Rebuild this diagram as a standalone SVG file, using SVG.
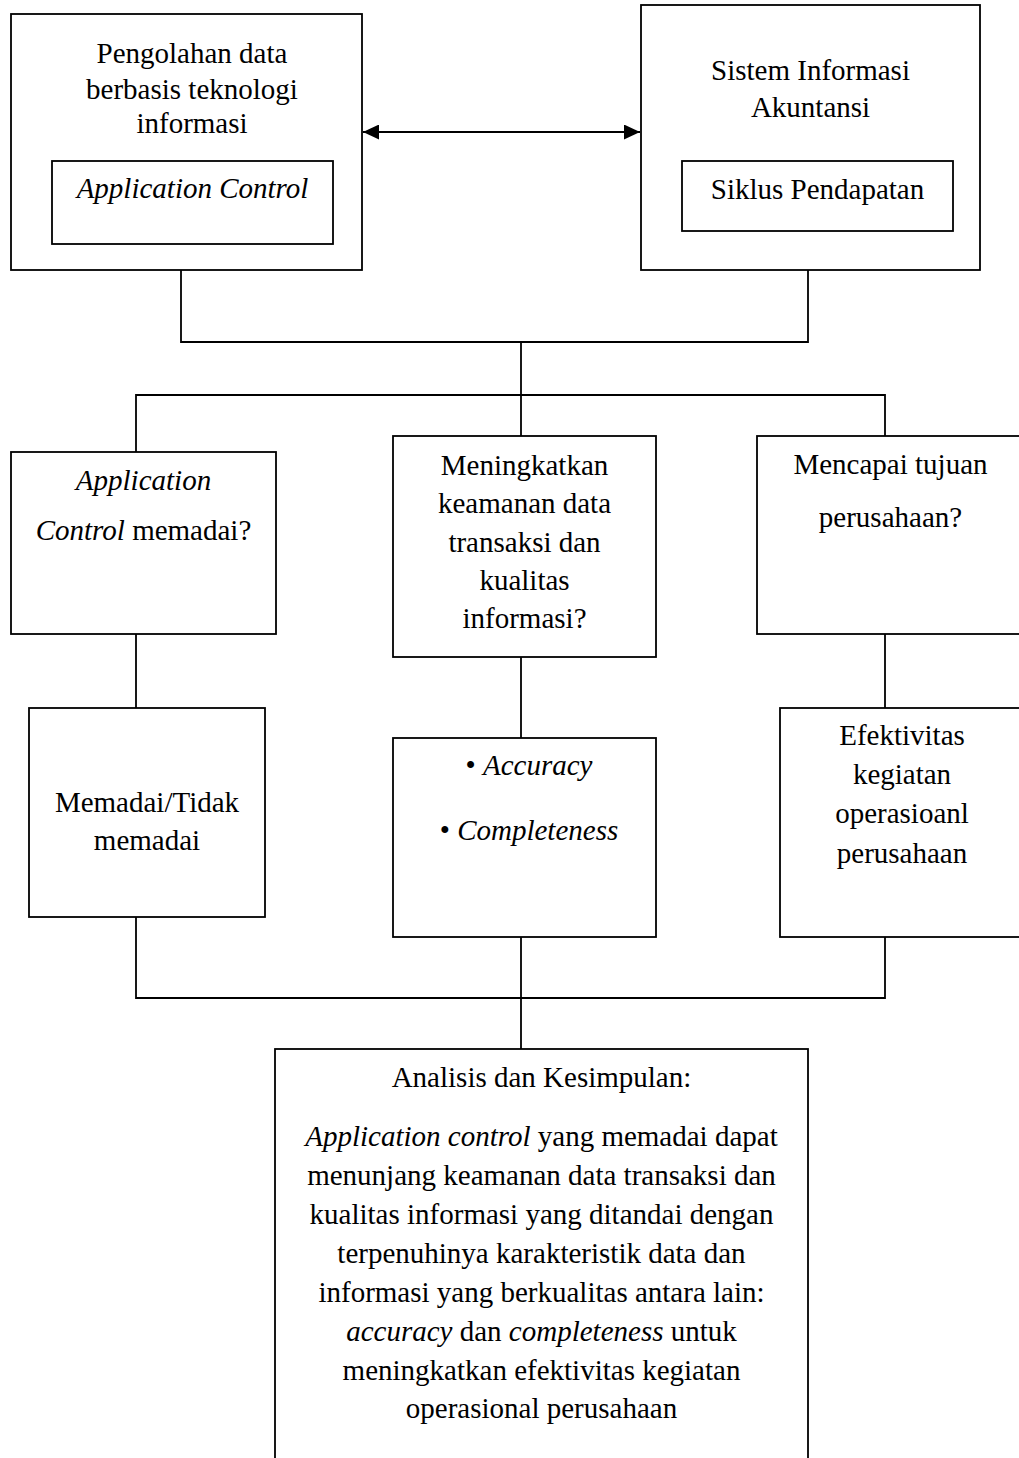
<svg xmlns="http://www.w3.org/2000/svg" width="1019" height="1458" viewBox="0 0 1019 1458">
<style>
rect.b{fill:#fff;stroke:#000;stroke-width:1.8}
text{font-family:"Liberation Serif","Times New Roman",serif;font-size:29px;fill:#000;text-anchor:middle}
.i{font-style:italic}
.c{fill:none;stroke:#000;stroke-width:1.8}
</style>
<defs>
<marker id="ah" viewBox="0 0 16 15" refX="16" refY="7.5" markerWidth="16" markerHeight="15" markerUnits="userSpaceOnUse" orient="auto-start-reverse">
<path d="M0,0 L16,7.5 L0,15 Z" fill="#000"/>
</marker>
</defs>
<rect width="1019" height="1458" fill="#fff"/>
<g id="connectors">
<path class="c" d="M181,270 V342 H808 V270"/>
<path class="c" d="M521,342 V395"/>
<path class="c" d="M136,452 V395 H885 V436 M521,395 V436"/>
<path class="c" d="M136,634 V708 M521,657 V738 M885,634 V708"/>
<path class="c" d="M136,917 V998 H885 V937 M521,937 V1049"/>
<line x1="363" y1="132" x2="640" y2="132" stroke="#000" stroke-width="2.2" marker-start="url(#ah)" marker-end="url(#ah)"/>
</g>
<g id="node-pengolahan">
<rect class="b" x="11" y="14" width="351" height="256"/>
<text x="192" y="63">Pengolahan data</text>
<text x="192" y="99">berbasis teknologi</text>
<text x="192" y="133">informasi</text>
<rect class="b" x="52" y="161" width="281" height="83"/>
<text x="192.5" y="198" class="i">Application Control</text>
</g>
<g id="node-sia">
<rect class="b" x="641" y="5" width="339" height="265"/>
<text x="810.5" y="80">Sistem Informasi</text>
<text x="810.5" y="117">Akuntansi</text>
<rect class="b" x="682" y="161" width="271" height="70"/>
<text x="817.5" y="199">Siklus Pendapatan</text>
</g>
<g id="node-ac-memadai">
<rect class="b" x="11" y="452" width="265" height="182"/>
<text x="143.5" y="490" class="i">Application</text>
<text x="143.5" y="540"><tspan class="i">Control</tspan> memadai?</text>
</g>
<g id="node-keamanan">
<rect class="b" x="393" y="436" width="263" height="221"/>
<text x="524.5" y="475">Meningkatkan</text>
<text x="524.5" y="513">keamanan data</text>
<text x="524.5" y="552">transaksi dan</text>
<text x="524.5" y="590">kualitas</text>
<text x="524.5" y="628">informasi?</text>
</g>
<g id="node-tujuan">
<rect class="b" x="757" y="436" width="267" height="198"/>
<text x="890.5" y="474">Mencapai tujuan</text>
<text x="890.5" y="527">perusahaan?</text>
</g>
<g id="node-memadai-tidak">
<rect class="b" x="29" y="708" width="236" height="209"/>
<text x="147" y="812">Memadai/Tidak</text>
<text x="147" y="850">memadai</text>
</g>
<g id="node-accuracy">
<rect class="b" x="393" y="738" width="263" height="199"/>
<text x="529" y="775">• <tspan class="i">Accuracy</tspan></text>
<text x="529" y="840">• <tspan class="i">Completeness</tspan></text>
</g>
<g id="node-efektivitas">
<rect class="b" x="780" y="708" width="244" height="229"/>
<text x="902" y="745">Efektivitas</text>
<text x="902" y="784">kegiatan</text>
<text x="902" y="823">operasioanl</text>
<text x="902" y="863">perusahaan</text>
</g>
<g id="node-analisis">
<rect class="b" x="275" y="1049" width="533" height="430"/>
<text x="541.5" y="1087">Analisis dan Kesimpulan:</text>
<text x="541.5" y="1146"><tspan class="i">Application control</tspan> yang memadai dapat</text>
<text x="541.5" y="1185">menunjang keamanan data transaksi dan</text>
<text x="541.5" y="1224">kualitas informasi yang ditandai dengan</text>
<text x="541.5" y="1263">terpenuhinya karakteristik data dan</text>
<text x="541.5" y="1302">informasi yang berkualitas antara lain:</text>
<text x="541.5" y="1341"><tspan class="i">accuracy</tspan> dan <tspan class="i">completeness</tspan> untuk</text>
<text x="541.5" y="1380">meningkatkan efektivitas kegiatan</text>
<text x="541.5" y="1418">operasional perusahaan</text>
</g>
</svg>
